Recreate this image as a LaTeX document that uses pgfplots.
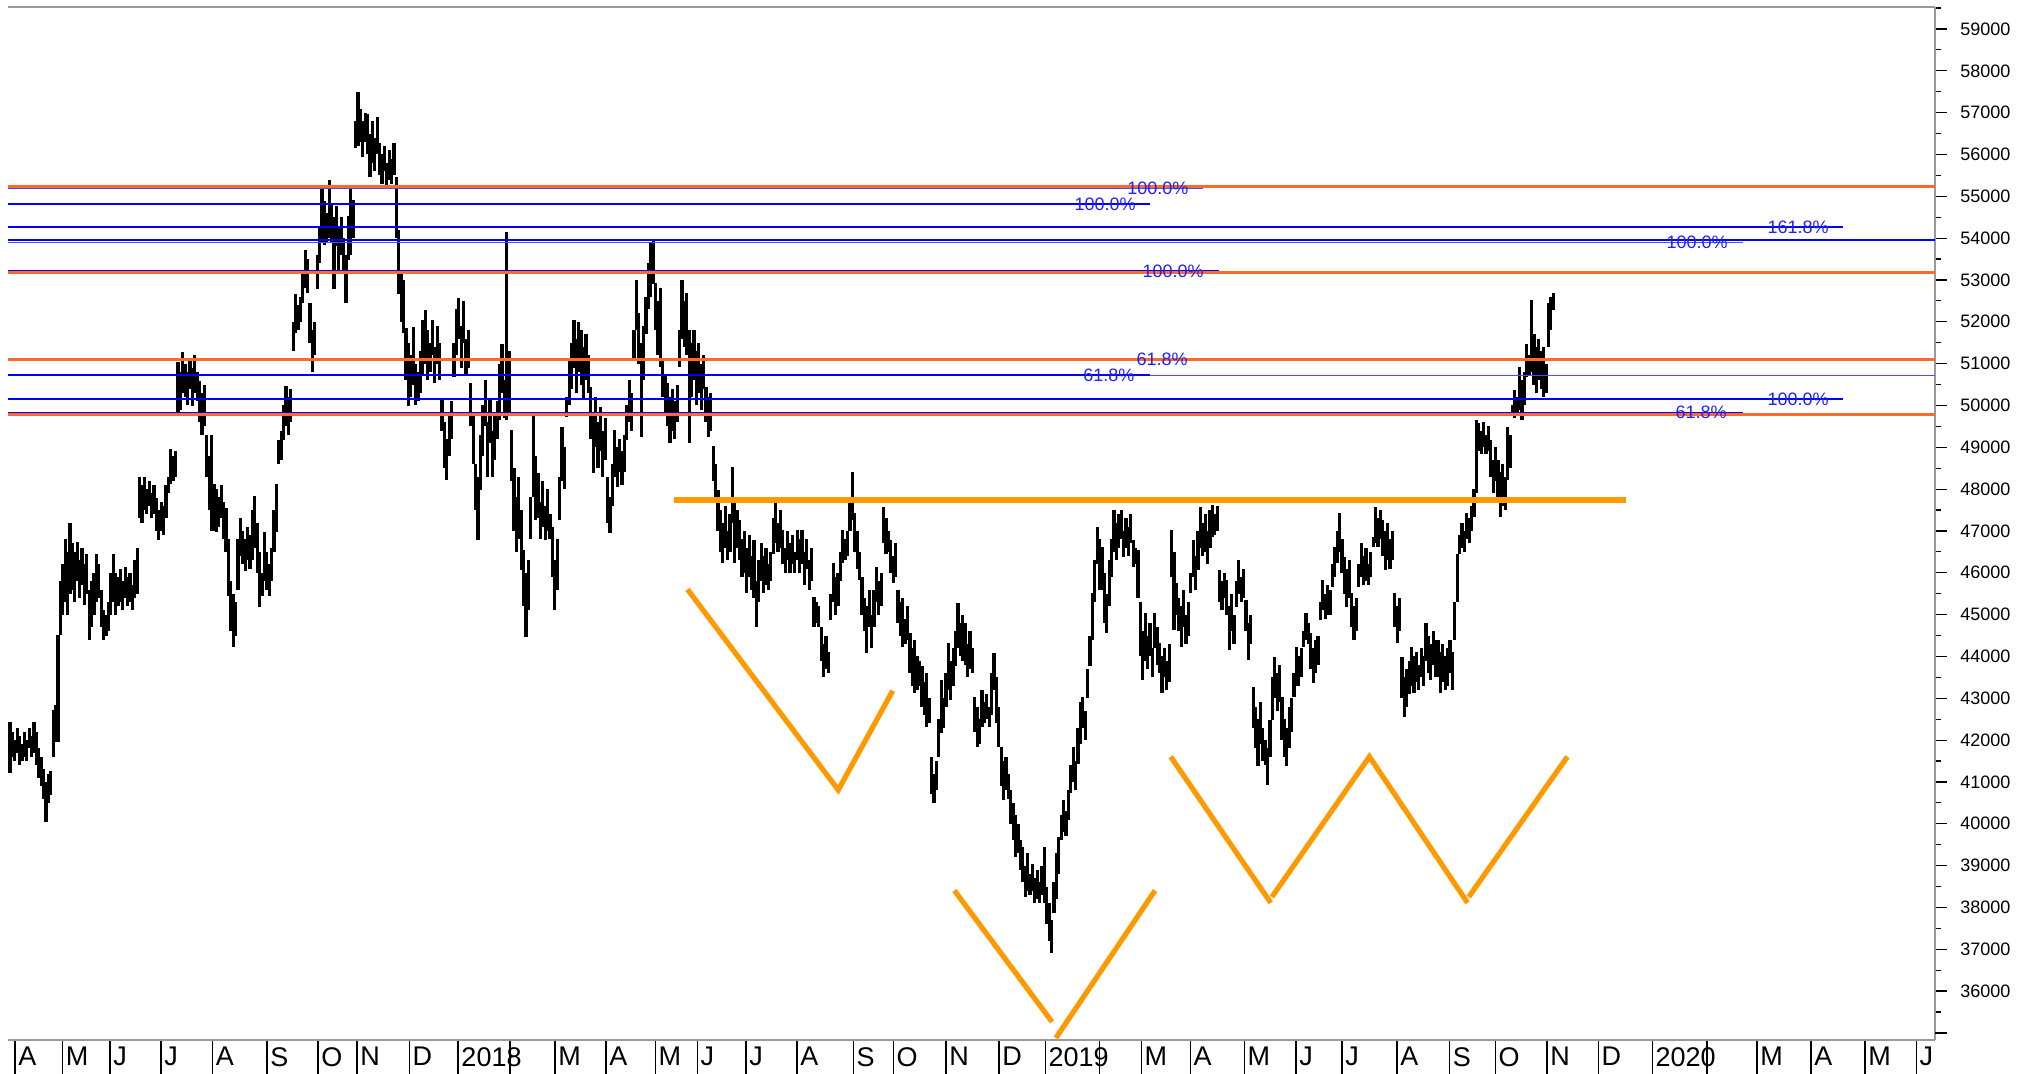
\documentclass[border=0pt]{standalone}
\usepackage{pgfplots}
\usepackage{pgfplotstable}
\pgfplotsset{compat=1.18}
\usepackage{fontspec}
\setmainfont{Liberation Sans}
\definecolor{fibor}{HTML}{FF6A2A}
\definecolor{patt}{HTML}{FF9900}
\definecolor{fibbl}{HTML}{0000FF}
\definecolor{fibbl2}{HTML}{4A4AFF}
\definecolor{fibtxt}{HTML}{2020FF}
\definecolor{axgray}{HTML}{9A9A9A}
% daily high / low, one row per trading day (index = trading day)
\pgfplotstableread{
h l
42430 41210
42200 41600
42000 41500
42300 41700
42100 41400
41900 41500
42200 41600
42000 41500
42300 41800
42100 41600
42430 41700
42200 41400
41800 41100
41600 40900
41300 40600
41000 40040
41200 40500
41270 40680
42720 41600
42840 41960
44520 41960
45800 44520
46200 45000
46800 45300
46500 45000
47200 45500
46700 45600
46500 45300
46735 45800
46300 45400
46600 45700
46200 45220
46440 45500
45600 44400
45800 44700
46000 45000
46440 45300
46200 45400
45600 44700
45100 44400
45000 44500
45300 44600
46000 45000
46440 45300
46000 44990
45900 45200
46100 45300
45800 45100
46150 45400
45900 45200
46000 45300
45700 45100
46300 45400
46600 45500
48300 47300
48100 47200
48300 47500
48000 47400
48200 47600
47900 47300
48100 47400
47780 47000
47500 46790
47700 47000
47600 46900
48100 47300
48300 47900
48950 48130
48800 48200
48900 48300
51040 49760
50800 49900
51270 50300
51000 50200
50800 50000
51100 50400
50900 49990
51200 50300
50800 50100
50580 49600
50300 49300
50500 49500
49300 48300
48800 47500
49300 47000
48130 47000
48000 46970
47800 47100
48100 47300
47700 46800
47550 46500
46800 45450
45800 44600
45500 44230
45300 44500
46800 45600
47320 46400
47000 46200
46800 46040
47100 46300
46900 46100
47500 46300
47840 46600
47200 46000
46500 45170
46000 45450
46970 45800
46500 45600
46200 45450
46600 45800
47500 46500
48130 46970
49180 48600
49400 48700
50000 49180
50460 49500
50200 49300
50400 49600
52000 51300
52670 51740
52400 51800
52600 52000
53200 52440
53720 52800
53500 52700
52440 51500
51800 50810
52000 51200
53600 52790
54300 53400
55170 53900
54880 53830
54600 53900
55400 54000
54800 53900
54500 52790
54770 53800
54300 53135
54500 53600
54000 53200
53600 52440
54530 53480
55170 53600
54900 54000
56800 56160
57500 56200
57090 56300
56800 55930
57000 56300
56975 56000
56500 55460
56800 55800
56400 55600
56900 56000
56280 55500
56000 55300
56200 55600
55800 55230
56100 55400
55900 55300
56280 55500
55460 54000
54200 52670
53250 52000
53000 51740
51850 50600
51500 49990
51200 50200
51880 50500
51000 50010
50800 50100
51300 50300
52040 50700
52280 51000
51800 50610
51500 50800
52040 51200
51400 50530
51900 51000
51500 50600
50130 49400
49600 48500
49200 48220
49800 48800
50100 49200
51500 50690
52300 51200
52560 51600
51900 50900
52500 51500
51600 50700
51800 50900
50530 49500
49800 48600
48600 47500
48300 46780
49300 47980
50000 48800
50610 49500
49600 48300
50130 49100
49400 48300
49800 48700
50100 49200
51000 49650
51480 50300
50600 49700
54155 49650
51300 49800
49410 48200
48500 47000
47800 46500
48300 46800
47500 46070
46550 45200
46000 44470
46300 45100
47800 46800
49810 47800
48800 47260
48380 47300
47700 46800
48200 47100
47600 46780
48000 47000
47400 46800
47100 45900
46300 45110
46800 45600
48300 47260
49490 48200
49000 48000
50200 49730
51090 50000
51500 50400
52040 50900
51600 50290
52000 50800
51810 50500
51400 50130
51700 50600
51200 50300
50450 49200
49800 48380
50200 49000
49600 48500
49970 48900
49400 48300
49700 48700
48300 47200
47800 46940
48600 47600
49410 48300
49000 48060
49200 48400
48900 48100
49300 48400
50000 49170
50610 49600
50300 49400
51800 51090
53000 51800
52200 51000
51500 49250
51900 50600
52600 51720
53400 52300
53880 52600
53920 52900
52920 51800
52500 51200
52800 50930
51090 50200
50700 49810
50530 49500
50200 49100
50400 49400
50100 49200
50500 49600
51800 50930
53000 51600
52500 51400
52700 51200
51810 49100
51500 50200
51810 50600
51300 50000
51500 50300
51000 49890
51200 50400
50450 49600
50200 49250
50300 49400
49020 48200
48600 47740
47980 47000
47500 46500
47200 46230
47600 46600
47000 46300
47400 46500
48540 47200
47800 46230
47500 46600
47260 46300
46800 45900
47000 46000
46600 45510
46900 45900
46400 45600
46780 45400
45800 44710
46300 45300
46700 45800
46400 45510
46600 45700
46200 45600
46500 45800
47300 46460
47660 46700
47200 46500
47500 46600
47020 46200
46600 45990
47000 46300
46700 46000
46900 46200
46500 45990
47020 46300
46800 46000
47020 46200
46500 45700
46800 46100
46300 45590
46600 45800
45430 44710
45300 44800
45200 44710
44710 43900
44300 43520
44500 43700
44100 43600
45500 44870
46230 45300
45900 45000
46000 45200
46500 45800
47020 46230
46800 46300
47000 46400
47800 47000
48400 47260
47420 46500
47000 46100
46500 45830
45910 45000
45400 44600
45200 44080
45600 44700
45000 44200
45600 44710
46150 45300
45800 45000
46000 45200
47580 46700
47300 46460
47000 46500
46780 46000
46400 45750
46700 45900
45590 44800
45300 44500
45400 44230
44900 44300
45200 44400
44550 43600
44200 43300
44400 43120
44000 43200
43900 43300
43760 42800
43400 42600
43600 42320
43000 42400
41600 40700
41200 40490
41500 40800
42500 41600
43440 42160
43000 42300
43600 42800
44310 43200
43900 42960
44200 43300
44600 43760
45270 44200
44800 44000
45000 43900
44790 43800
44300 43520
44600 43700
44200 43600
43040 42200
42800 41840
42500 41900
43200 42320
42900 42400
43100 42500
42800 42320
43600 42600
44080 43200
43500 42400
42800 41840
41840 40900
41500 40570
41600 40800
41200 40600
40810 40000
40500 39600
40200 39210
40000 39300
39600 38900
39450 38600
39000 38260
39300 38400
38800 38300
39050 38400
38700 38100
38900 38200
38600 38100
39000 38300
39450 38100
38500 37600
38100 37200
37700 36900
38600 37860
39300 38200
39690 38800
40200 39610
40570 39800
40300 39700
40800 40100
41400 40730
41840 41000
41500 40800
42300 41440
42900 41900
43040 42300
42700 42000
43700 43000
44500 43760
45510 44400
46300 45300
47100 46200
46800 45590
46620 45600
46000 44800
45500 44550
46300 45200
46800 45910
47500 46500
47200 46300
47400 46600
47500 46800
47000 46380
47300 46600
47100 46400
47400 46700
46780 46150
46600 46200
46540 45400
45300 44000
44600 43440
45030 43900
44500 43700
44800 44000
44200 43500
45030 44200
44700 43800
44310 43600
44000 43120
44200 43500
43900 43200
44300 43400
47020 45900
46500 44630
45750 45000
45400 44600
45200 44230
45600 44700
45000 44300
45300 44500
46000 45510
46780 45900
46400 45600
47000 46070
47580 46600
47200 46400
47400 46500
47000 46200
47500 46600
47620 46860
47400 46900
47600 47000
46070 45300
45800 45110
46000 45400
45830 45000
45200 44150
45500 44600
45000 44300
45800 45190
46300 45500
45900 45300
46100 45400
45350 44600
44800 43910
45000 44300
43280 42300
42800 41800
42500 41370
42900 41900
42300 41500
42000 41400
41800 40930
42480 41600
43500 42480
43990 43000
43600 42700
43800 42900
43040 42000
42500 41600
42300 41370
42800 41800
43000 42200
43600 43040
44230 43300
44000 43300
44200 43500
44600 44230
45030 44400
44800 44300
44550 43700
44200 43360
44400 43600
44500 43800
45300 44870
45830 45100
45500 44900
45700 45000
45600 45000
46200 45670
46620 45900
47000 46230
47420 46500
46800 46000
46380 45500
46100 45190
46300 45400
45510 44700
45200 44390
45400 44600
46200 45670
46700 45900
46400 45700
46600 45800
46200 45700
46500 45900
46860 46620
47580 46700
47300 46620
47500 46800
47260 46400
47000 46070
47200 46300
46800 46100
47000 46300
45510 44700
45200 44310
45400 44600
43990 43000
43500 42560
43700 42800
43900 43100
44230 43300
44000 43120
44100 43400
43800 43200
44200 43500
44000 43300
44790 43900
44500 43600
44300 43440
44600 43800
44400 43500
44390 43500
44100 43120
44300 43400
44000 43200
44200 43300
44390 43600
44100 43200
45300 44390
46460 45300
46900 46460
47200 46600
47000 46500
47420 46800
47300 46700
47600 47000
48000 47340
49650 47900
49570 48900
49400 48850
49600 49000
49300 48850
49500 48900
49170 48300
48700 47900
49000 48200
48700 47800
48400 47340
48600 47600
48300 47500
49490 48220
49300 48500
50000 49810
50370 49700
50200 49810
50930 49900
50600 49650
50800 50000
51480 50690
51200 50700
52520 50800
51720 50500
51400 50290
51600 50600
51300 50400
51400 50210
51000 50300
52440 51400
52600 51800
52700 52280
}\pricedata
\begin{document}
\begin{tikzpicture}
\useasboundingbox (0,0) rectangle (1015.5pt,537pt);
% ---------- main price axis ----------
\begin{axis}[
  at={(4pt,17pt)}, anchor=south west,
  scale only axis, width=963.5pt, height=516.5pt,
  xmin=-0.833, xmax=802.08, ymin=34831, ymax=59526,
  axis x line*=box, axis y line*=right,
  axis line style={axgray, line width=0.6pt},
  xtick=\empty,
  ytick={36000,37000,...,59000},
  extra y ticks={35000}, extra y tick labels={},
  minor ytick={35500,36500,...,59500},
  scaled y ticks=false,
  tick align=outside,
  major tick length=6pt, minor tick length=3pt,
  every tick/.style={black, line width=0.6pt},
  yticklabel pos=right,
  yticklabel={\pgfmathprintnumber[fixed, precision=0, 1000 sep={}, assume math mode=true]{\tick}},
  yticklabel style={font=\fontsize{9}{10}\selectfont, inner sep=0pt, anchor=west, xshift=6.5pt},
  clip=false,
]
\addplot[draw=none, mark=none, forget plot,
  error bars/.cd, y dir=plus, y explicit, error mark=none,
  error bar style={draw=black, line width=1.55pt}]
  table[x expr=\coordindex, y=l, y error plus expr=\thisrow{h}-\thisrow{l}] {\pricedata};
% ---------- blue Fibonacci lines ----------
\addplot[fibbl2, line width=0.6pt] coordinates {(-0.833,55190) (497.1,55190)};
\addplot[fibbl, line width=0.8pt] coordinates {(-0.833,54816) (475,54816)};
\addplot[fibbl, line width=0.8pt] coordinates {(-0.833,54267) (763.75,54267)};
\addplot[fibbl, line width=0.8pt] coordinates {(-0.833,53955) (802.08,53955)};
\addplot[fibbl2, line width=0.8pt] coordinates {(-0.833,53895) (722.1,53895)};
\addplot[fibbl, line width=0.8pt] coordinates {(-0.833,53215) (503.75,53215)};
\addplot[fibbl2, line width=0.6pt] coordinates {(-0.833,51110) (497.1,51110)};
\addplot[fibbl2, line width=0.8pt] coordinates {(-0.833,50715) (802.08,50715)};
\addplot[fibbl, line width=1.2pt] coordinates {(-0.833,50725) (475,50725)};
\addplot[fibbl, line width=1.2pt] coordinates {(-0.833,50150) (763.75,50150)};
\addplot[fibbl, line width=0.8pt] coordinates {(-0.833,49828) (722.1,49828)};
% ---------- orange Fibonacci lines ----------
\addplot[fibor, line width=1.6pt] coordinates {(-0.833,55225) (802.08,55225)};
\addplot[fibor, line width=1.6pt] coordinates {(-0.833,53170) (802.08,53170)};
\addplot[fibor, line width=1.6pt] coordinates {(-0.833,51090) (802.08,51090)};
\addplot[fibor, line width=1.6pt] coordinates {(-0.833,49790) (802.08,49790)};
% ---------- labels ----------
\begin{scope}[every node/.style={text=fibtxt, font=\fontsize{9}{10}\selectfont, inner sep=0pt}]
\node at (axis cs:478.3,55190) {100.0\%};
\node at (axis cs:456.3,54816) {100.0\%};
\node at (axis cs:484.6,53215) {100.0\%};
\node at (axis cs:480,51110) {61.8\%};
\node at (axis cs:457.9,50725) {61.8\%};
\node at (axis cs:745,54267) {161.8\%};
\node at (axis cs:703,53895) {100.0\%};
\node at (axis cs:745,50150) {100.0\%};
\node at (axis cs:704.6,49828) {61.8\%};
\end{scope}
% ---------- pattern lines ----------
\addplot[patt, line width=3pt] coordinates {(276.7,47738) (673.3,47738)};
\addplot[patt, line width=2.6pt] coordinates {(282.3,45603) (345.1,40808) (367.8,43181)};
\addplot[patt, line width=2.6pt] coordinates {(393.5,38405) (434.2,35262)};
\addplot[patt, line width=2.6pt] coordinates {(435.8,34880) (477.1,38405)};
\addplot[patt, line width=2.6pt] coordinates {(483.6,41604) (525.3,38111)};
\addplot[patt, line width=2.6pt] coordinates {(525.8,38250) (566.4,41604) (607.3,38111)};
\addplot[patt, line width=2.6pt] coordinates {(607.8,38250) (648.9,41604)};
\end{axis}
% ---------- month axis ----------
\begin{axis}[
  at={(4pt,17pt)}, anchor=south west,
  scale only axis, width=963.5pt, height=516.5pt,
  xmin=-0.833, xmax=802.08, ymin=0, ymax=1,
  axis x line*=bottom, axis y line=none,
  axis line style={axgray, line width=0.6pt},
  tick align=outside, major tick length=17pt,
  every tick/.style={black, line width=0.6pt},
  xtick={2.1,21.9,41.7,62.9,84.4,107.1,128.3,144.6,166.3,186.7,208.3,227.1,248.3,268.8,286.3,306.7,327.9,351.3,368,390,412.1,431.3,453.8,471.3,491.7,514.2,535.8,555,577.9,599.8,618.8,640.4,661.7,684.2,707.1,727.9,750.4,772.9,794.2},
  xticklabels={A,M,J,J,A,S,O,N,D,2018,,M,A,M,J,J,A,S,O,N,D,2019,,M,A,M,J,J,A,S,O,N,D,2020,,M,A,M,J},
  xticklabel style={font=\fontsize{13.5}{15}\selectfont, anchor=north west, inner sep=0pt, xshift=1.5pt, yshift=13.5pt},
]
\end{axis}
\end{tikzpicture}
\end{document}
